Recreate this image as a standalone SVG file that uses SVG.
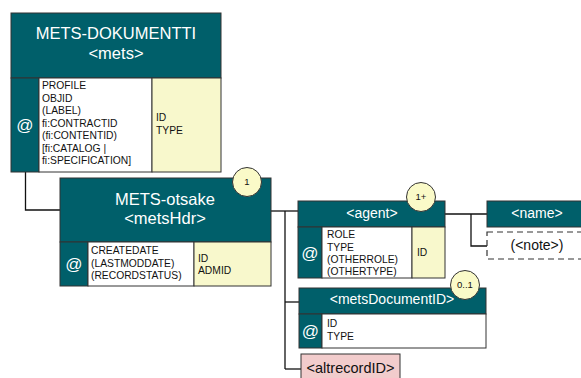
<svg xmlns="http://www.w3.org/2000/svg" width="581" height="378" viewBox="0 0 581 378">
<style>
text{font-family:"Liberation Sans",Arial,sans-serif}
.hd{fill:#005f6a;stroke:#333;stroke-width:1}
.wh{fill:#fff;stroke:#333;stroke-width:1}
.ye{fill:#f8f8cc;stroke:#333;stroke-width:1}
.pk{fill:#f2cccc;stroke:#333;stroke-width:1}
.dash{fill:#fff;stroke:#333;stroke-width:1.2;stroke-dasharray:6,4}
.ttl{fill:#fff;font-size:16.5px;text-anchor:middle}
.el{fill:#fff;font-size:14px;text-anchor:middle}
.at{fill:#fff;font-size:17px;text-anchor:middle}
.a{fill:#111;font-size:10.3px}
.cc{fill:#fafac8;stroke:#333;stroke-width:1}
.ct{fill:#111;font-size:9.5px;text-anchor:middle}
.ln{fill:none;stroke:#111;stroke-width:1.3}
</style>
<g id="connectors">
<path class="ln" d="M25.5,172 V210 H60"/>
<path class="ln" d="M271,211 H298"/>
<path class="ln" d="M285,211 V369"/>
<path class="ln" d="M285,302 H299"/>
<path class="ln" d="M285,369 H301"/>
<path class="ln" d="M445,214 H487"/>
<path class="ln" d="M471,214 V246 H487"/>
</g>
<g id="mets">
<rect class="hd" x="11" y="13" width="210" height="65"/>
<text class="ttl" x="116" y="39">METS-DOKUMENTTI</text>
<text class="ttl" x="116" y="59">&lt;mets&gt;</text>
<rect class="hd" x="11" y="78" width="28" height="94"/>
<text class="at" x="25" y="131">@</text>
<rect class="wh" x="39" y="78" width="113" height="94"/>
<rect class="ye" x="152" y="78" width="69" height="94"/>
<text class="a" x="42" y="89">PROFILE</text>
<text class="a" x="42" y="101.5">OBJID</text>
<text class="a" x="42" y="114">(LABEL)</text>
<text class="a" x="42" y="126.5">fi:CONTRACTID</text>
<text class="a" x="42" y="139">(fi:CONTENTID)</text>
<text class="a" x="42" y="151.5">[fi:CATALOG |</text>
<text class="a" x="42" y="164">fi:SPECIFICATION]</text>
<text class="a" x="156" y="121">ID</text>
<text class="a" x="156" y="134">TYPE</text>
</g>
<g id="metsHdr">
<rect class="hd" x="60" y="178" width="211" height="64"/>
<text class="ttl" x="165" y="205">METS-otsake</text>
<text class="ttl" x="165" y="224">&lt;metsHdr&gt;</text>
<rect class="hd" x="60" y="242" width="28" height="44"/>
<text class="at" x="74" y="270">@</text>
<rect class="wh" x="88" y="242" width="106" height="44"/>
<rect class="ye" x="194" y="242" width="77" height="44"/>
<text class="a" x="91" y="254">CREATEDATE</text>
<text class="a" x="91" y="267">(LASTMODDATE)</text>
<text class="a" x="91" y="279">(RECORDSTATUS)</text>
<text class="a" x="198" y="262">ID</text>
<text class="a" x="198" y="274">ADMID</text>
<circle class="cc" cx="247" cy="182" r="14.5"/>
<text class="ct" x="247" y="185">1</text>
</g>
<g id="agent">
<rect class="hd" x="298" y="201" width="147" height="26"/>
<text class="el" x="372" y="218">&lt;agent&gt;</text>
<rect class="hd" x="298" y="227" width="24" height="51"/>
<text class="at" x="310" y="259">@</text>
<rect class="wh" x="322" y="227" width="90" height="51"/>
<rect class="ye" x="412" y="227" width="33" height="51"/>
<text class="a" x="327" y="238">ROLE</text>
<text class="a" x="327" y="251">TYPE</text>
<text class="a" x="327" y="263">(OTHERROLE)</text>
<text class="a" x="327" y="275">(OTHERTYPE)</text>
<text class="a" x="417" y="256">ID</text>
<circle class="cc" cx="421" cy="197" r="14.5"/>
<text class="ct" x="421" y="200">1+</text>
</g>
<g id="name">
<rect class="hd" x="487" y="201" width="100" height="26"/>
<text class="el" x="537" y="218">&lt;name&gt;</text>
</g>
<g id="note">
<rect class="dash" x="487" y="232" width="100" height="27"/>
<text class="el" x="537" y="250" style="fill:#111">(&lt;note&gt;)</text>
</g>
<g id="metsDocumentID">
<rect class="hd" x="299" y="288" width="187" height="26"/>
<text class="el" x="392" y="304">&lt;metsDocumentID&gt;</text>
<rect class="hd" x="299" y="314" width="23" height="34"/>
<text class="at" x="310.5" y="337">@</text>
<rect class="wh" x="322" y="314" width="164" height="34"/>
<text class="a" x="327" y="327">ID</text>
<text class="a" x="327" y="340">TYPE</text>
<circle class="cc" cx="465" cy="285" r="14.5"/>
<text class="ct" x="465" y="288">0..1</text>
</g>
<g id="altrecordID">
<rect class="pk" x="301" y="354" width="99" height="30"/>
<text class="el" x="350.5" y="373" style="fill:#111;font-size:14.5px">&lt;altrecordID&gt;</text>
</g>
</svg>
